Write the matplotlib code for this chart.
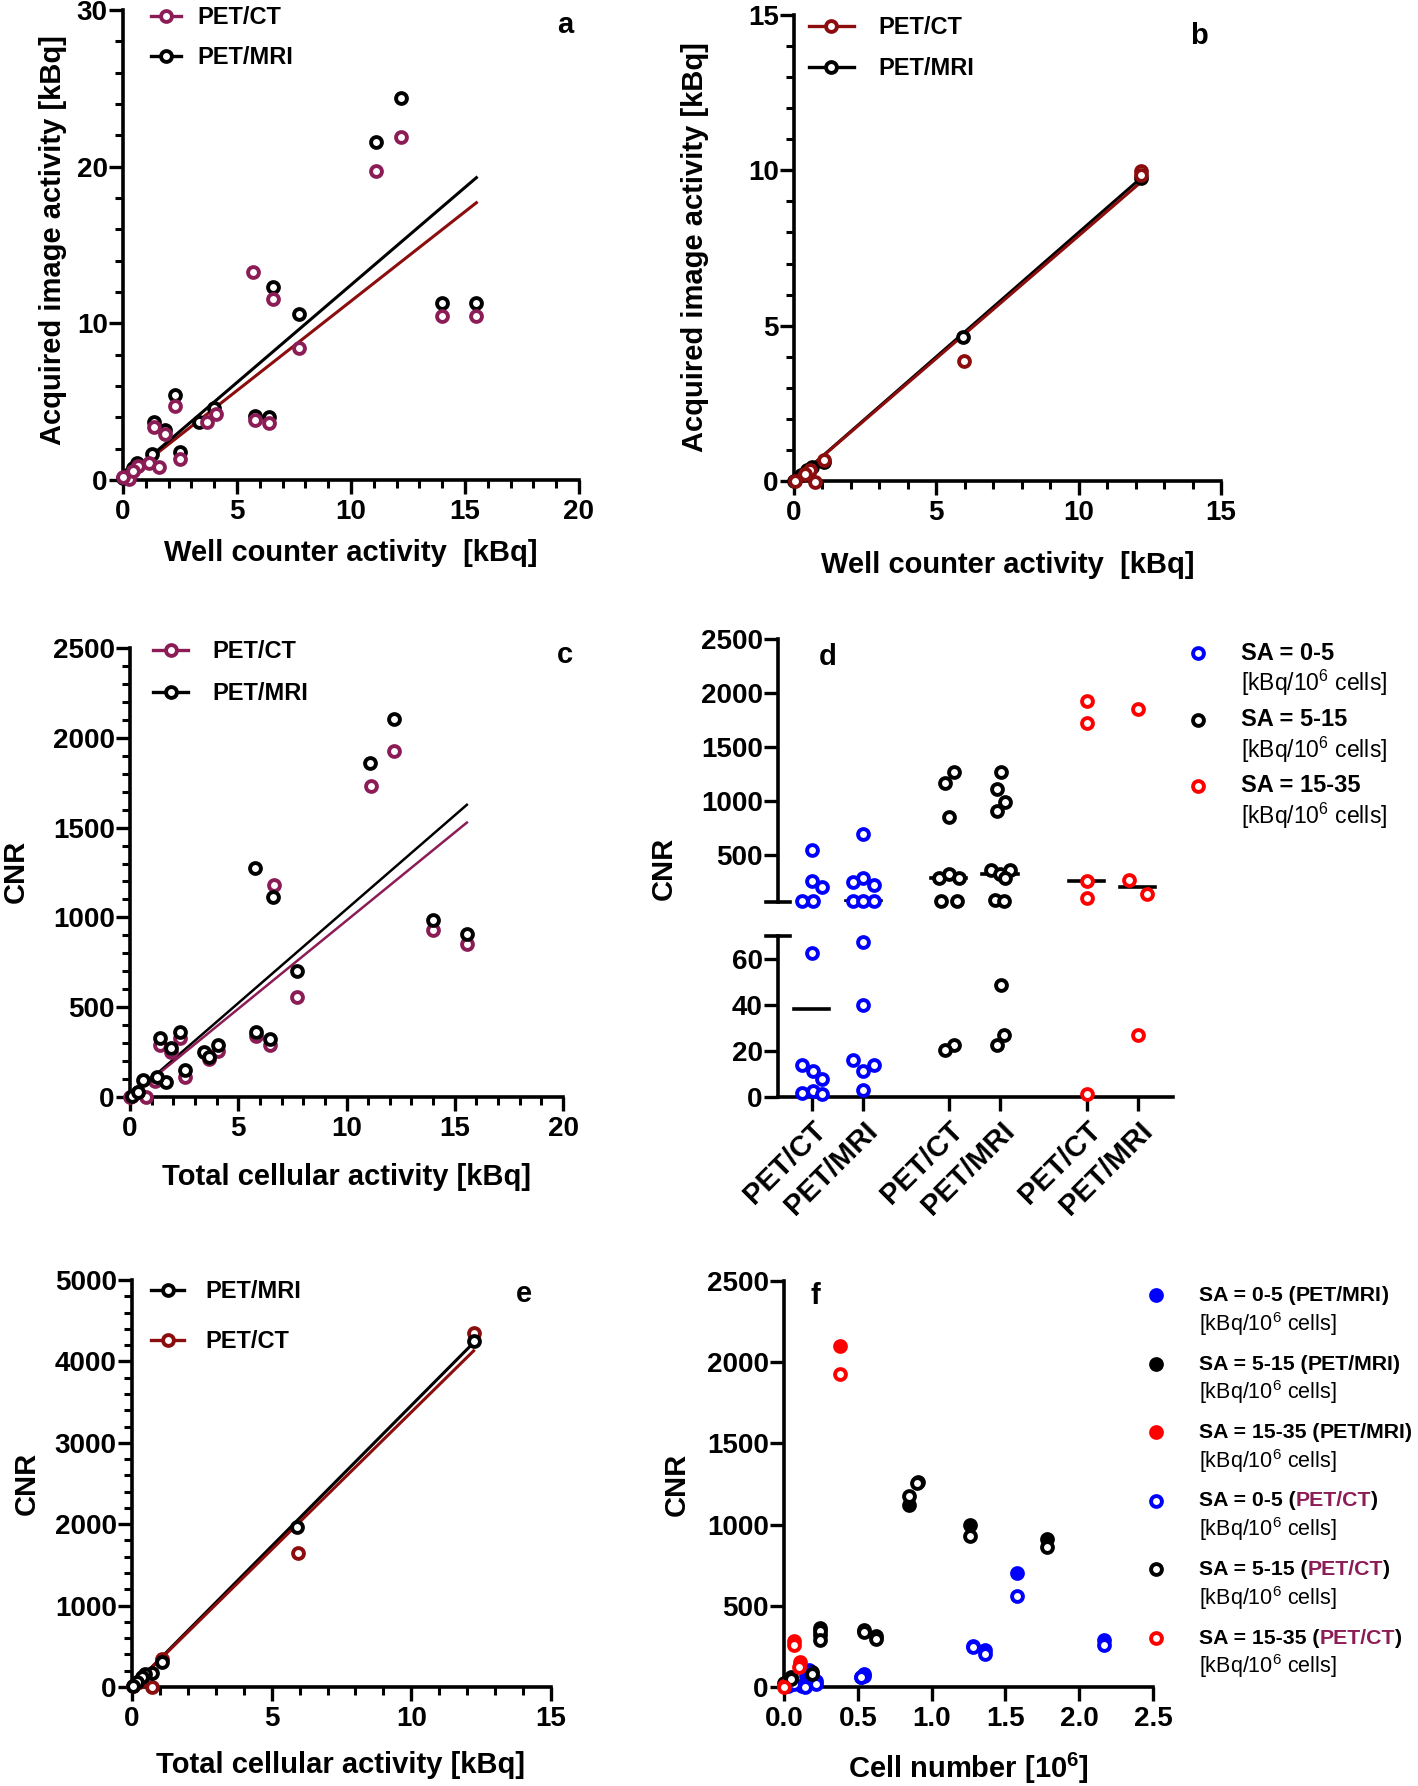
import matplotlib
matplotlib.use('Agg')
import matplotlib.pyplot as plt
import numpy as np
from matplotlib.ticker import MultipleLocator, FormatStrFormatter
from matplotlib.lines import Line2D

plt.rcParams['font.family'] = ['Liberation Sans', 'DejaVu Sans']
plt.rcParams['font.weight'] = 'bold'
plt.rcParams['mathtext.default'] = 'regular'

W, H = 1418, 1786
MAROON = '#8c1c55'
DARKRED = '#8b0d0d'
BLUE = '#0000ff'
RED = '#ff0000'

##########################################################################################
# data

# a: well counter activity vs acquired image activity [kBq]
a_mri_x = [12.2, 11.1, 6.6, 7.7, 14.0, 15.5, 2.26, 4.0, 5.8, 6.4, 1.34, 1.84, 3.35, 2.48, 1.26, 0.6, 0.17, 0.0, 0.45, 0.1]
a_mri_y = [24.4, 21.6, 12.3, 10.6, 11.3, 11.3, 5.4, 4.6, 4.1, 4.0, 3.7, 3.2, 3.7, 1.8, 1.65, 1.06, 0.35, 0.1, 0.75, 0.2]
a_ct_x = [12.2, 11.1, 5.7, 6.6, 7.7, 14.0, 15.5, 2.26, 4.07, 3.68, 5.8, 6.4, 1.34, 1.84, 2.48, 1.14, 1.59, 0.67, 0.25, 0.0, 0.45]
a_ct_y = [21.9, 19.7, 13.25, 11.55, 8.4, 10.5, 10.5, 4.75, 4.2, 3.7, 3.85, 3.65, 3.4, 2.95, 1.35, 1.06, 0.83, 0.87, 0.05, 0.2, 0.6]
a_fit_x = [0.0, 15.5]
a_fit_mri = [0.0, 19.3]
a_fit_ct = [0.0, 17.7]

# b
b_mri_x = [12.2, 5.93, 1.04, 0.64, 0.44, 0.24, 0.0]
b_mri_y = [9.74, 4.62, 0.62, 0.45, 0.36, 0.18, 0.0]
b_ct_x = [12.2, 12.2, 5.96, 1.07, 0.75, 0.57, 0.37, 0.04]
b_ct_y = [9.98, 9.85, 3.85, 0.69, -0.02, 0.36, 0.24, 0.0]
b_fit_x = [0.0, 12.2]
b_fit_mri = [0.0, 9.76]
b_fit_ct = [0.0, 9.63]

# c: total cellular activity vs CNR
c_mri_x = [12.2, 11.1, 5.76, 6.6, 7.72, 14.0, 15.56, 2.29, 1.37, 1.89, 4.05, 3.4, 3.67, 5.81, 6.48, 2.52, 1.64, 1.23, 0.62, 0.09, 0.35]
c_mri_y = [2103, 1861, 1274, 1111, 700, 988, 909, 363, 331, 272, 288, 248, 224, 363, 323, 149, 85, 109, 95, 4, 30]
c_ct_x = [12.2, 11.14, 6.63, 7.72, 14.0, 15.56, 5.81, 6.48, 2.29, 1.37, 1.89, 4.05, 3.67, 2.52, 1.15, 0.76, 0.35, 0.0]
c_ct_y = [1929, 1732, 1181, 556, 931, 853, 341, 292, 330, 292, 248, 258, 212, 109, 89, 0, 30, 0]
c_fit_x = [0.0, 15.56]
c_fit_mri = [0.0, 1627]
c_fit_ct = [0.0, 1528]

# d: CNR per specific activity group
d_cats = ['PET/CT', 'PET/MRI', 'PET/CT', 'PET/MRI', 'PET/CT', 'PET/MRI']
d_pos = [0.0, 1.0, 2.66, 3.65, 5.33, 6.32]
d_vals = [
    [555, 264, 205, 82, 75, 62.6, 13.7, 11.1, 7.7, 1.7, 2.6, 1.2],
    [696, 289, 253, 227, 75, 75, 75, 67.4, 39.8, 16, 13.7, 11.5, 2.9],
    [1271, 1173, 853, 289, 325, 289, 78, 78, 22.8, 20.6],
    [1271, 1115, 991, 907, 362, 362, 325, 289, 85, 78, 48.5, 26.9, 22.8],
    [1925, 1725, 264, 107, 1.2],
    [1853, 271, 144, 26.9],
]
d_jitter = [
    [0.0, 0.0, 0.2, -0.18, 0.02, 0.0, -0.18, 0.02, 0.2, -0.18, 0.02, 0.2],
    [0.0, 0.0, -0.2, 0.2, -0.2, 0.0, 0.2, 0.0, 0.0, -0.2, 0.2, 0.0, 0.0],
    [0.1, -0.08, 0.0, -0.2, 0.0, 0.2, -0.15, 0.15, 0.1, -0.08],
    [0.02, -0.05, 0.09, -0.05, -0.18, 0.19, 0.0, 0.09, -0.1, 0.07, 0.02, 0.07, -0.05],
    [0.0, 0.0, 0.0, 0.0, 0.0],
    [0.0, -0.17, 0.17, 0.0],
]
d_colors = [BLUE, BLUE, 'black', 'black', RED, RED]
d_legend = ['SA = 0-5', 'SA = 5-15', 'SA = 15-35']

# e
e_mri_x = [12.23, 5.92, 1.07, 0.72, 0.45, 0.36, 0.18, 0.04]
e_mri_y = [4256, 1966, 307, 172, 160, 118, 67, 13]
e_ct_x = [12.23, 5.94, 1.07, 0.72, 0.25, 0.04]
e_ct_y = [4349, 1643, 340, 0, 67, 13]
e_fit_x = [0.0, 12.23]
e_fit_mri = [0.0, 4230]
e_fit_ct = [0.0, 4130]

# f: cell number vs CNR
f_mri_05_x = [1.58, 1.28, 1.36, 2.17, 0.54, 0.52, 0.17, 0.15, 0.22, 0.03, 0.12]
f_mri_05_y = [701, 253, 227, 290, 80, 63, 105, 69, 34, 17, 6]
f_ct_05_x = [1.58, 1.28, 1.36, 2.17, 0.54, 0.52, 0.17, 0.19, 0.22, 0.03, 0.14, 0.07]
f_ct_05_y = [560, 248, 206, 259, 69, 59, 84, 48, 17, 6, 0, 21]
f_mri_515_x = [0.91, 0.85, 1.26, 1.78, 0.245, 0.245, 0.54, 0.62, 0.19, 0.05, 0.0]
f_mri_515_y = [1265, 1122, 995, 911, 364, 322, 354, 311, 90, 59, 27]
f_ct_515_x = [0.90, 0.85, 1.26, 1.78, 0.245, 0.245, 0.54, 0.62, 0.19, 0.05]
f_ct_515_y = [1258, 1178, 932, 859, 343, 290, 337, 295, 80, 48]
f_mri_1535_x = [0.38, 0.07, 0.11, 0.0]
f_mri_1535_y = [2100, 286, 154, 6]
f_ct_1535_x = [0.38, 0.07, 0.10, 0.0]
f_ct_1535_y = [1928, 259, 122, 0]

##########################################################################################

fig = plt.figure(figsize=(W / 100, H / 100), dpi=100)


def add_ax(l, t, r, b):
    return fig.add_axes([l / W, 1 - b / H, (r - l) / W, (b - t) / H])


def ftext(x, y, s, **kw):
    return fig.text(x / W, 1 - y / H, s, **kw)


def style(ax, xmaj=None, xmin=None, ymaj=None, ymin=None):
    for s in ['top', 'right']:
        ax.spines[s].set_visible(False)
    for s in ['left', 'bottom']:
        ax.spines[s].set_linewidth(2.6)
    ax.tick_params(which='major', direction='out', length=10, width=2.4, labelsize=20)
    ax.tick_params(which='minor', direction='out', length=6, width=2.2)
    ax.tick_params(axis='y', pad=1)
    ax.tick_params(axis='x', pad=4)
    if xmaj: ax.xaxis.set_major_locator(MultipleLocator(xmaj))
    if xmin: ax.xaxis.set_minor_locator(MultipleLocator(xmin))
    if ymaj: ax.yaxis.set_major_locator(MultipleLocator(ymaj))
    if ymin: ax.yaxis.set_minor_locator(MultipleLocator(ymin))


MS, MEW = 7.8, 2.8


def pts(ax, x, y, color, filled=False, z=3):
    ax.plot(x, y, 'o', ms=MS, mfc=color if filled else 'white', mec=color, mew=MEW,
            clip_on=False, zorder=z, ls='none')


def handle(color, lcolor=None):
    return Line2D([], [], color=lcolor or color, lw=2.4, marker='o', ms=MS,
                  mfc='white', mec=color, mew=MEW)


def legend(ax, hs, labels, x, y, hl, tp, sp):
    ax.legend(hs, labels, loc='upper left', bbox_to_anchor=(x / W, 1 - y / H),
              bbox_transform=fig.transFigure, frameon=False, borderpad=0, borderaxespad=0,
              handlelength=hl, handletextpad=tp, labelspacing=sp,
              prop={'size': 17, 'weight': 'bold'})


# ---------------- a ----------------
ax = add_ax(123, 10, 579, 480)
style(ax, 5, 1, 10, 2)
ax.set_xlim(0, 20)
ax.set_ylim(0, 30)
ax.plot(a_fit_x, a_fit_ct, color=DARKRED, lw=2.2, zorder=2)
ax.plot(a_fit_x, a_fit_mri, color='black', lw=2.2, zorder=2)
pts(ax, a_mri_x, a_mri_y, 'black')
pts(ax, a_ct_x, a_ct_y, MAROON, z=4)
legend(ax, [handle(MAROON), handle('black')], ['PET/CT', 'PET/MRI'], 151, 6, 1.25, 0.7, 0.72)
ftext(351, 553, 'Well counter activity  [kBq]', ha='center', va='center', fontsize=21)
ftext(53, 240, 'Acquired image activity [kBq]', ha='center', va='center', fontsize=21, rotation=90)
ftext(565, 25, 'a', ha='center', va='center', fontsize=21)

# ---------------- b ----------------
ax = add_ax(794, 15, 1221, 481)
style(ax, 5, 1, 5, 1)
ax.set_xlim(0, 15)
ax.set_ylim(0, 15)
ax.plot(b_fit_x, b_fit_mri, color='black', lw=2.2, zorder=2)
ax.plot(b_fit_x, b_fit_ct, color=DARKRED, lw=2.2, zorder=2)
pts(ax, b_mri_x, b_mri_y, 'black')
pts(ax, b_ct_x, b_ct_y, DARKRED, z=4)
legend(ax, [handle(DARKRED), handle('black')], ['PET/CT', 'PET/MRI'], 809, 16, 1.9, 1.05, 0.78)
ftext(1008, 565, 'Well counter activity  [kBq]', ha='center', va='center', fontsize=21)
ftext(695, 247, 'Acquired image activity [kBq]', ha='center', va='center', fontsize=21, rotation=90)
ftext(1199, 36, 'b', ha='center', va='center', fontsize=21)

# ---------------- c ----------------
ax = add_ax(130, 648, 563, 1097)
style(ax, 5, 1, 500, 100)
ax.set_xlim(0, 20)
ax.set_ylim(0, 2500)
ax.plot(c_fit_x, c_fit_mri, color='black', lw=1.8, zorder=2)
ax.plot(c_fit_x, c_fit_ct, color=MAROON, lw=1.8, zorder=2)
pts(ax, c_ct_x, c_ct_y, MAROON)
pts(ax, c_mri_x, c_mri_y, 'black', z=4)
legend(ax, [handle(MAROON), handle('black')], ['PET/CT', 'PET/MRI'], 153, 640, 1.5, 1.0, 0.8)
ftext(347, 1177, 'Total cellular activity [kBq]', ha='center', va='center', fontsize=21)
ftext(16, 871, 'CNR', ha='center', va='center', fontsize=21, rotation=90)
ftext(565, 655, 'c', ha='center', va='center', fontsize=21)

# ---------------- d (broken y axis) ----------------
d_up = add_ax(778, 639, 1173, 902)
d_lo = add_ax(778, 936, 1173, 1097)
style(d_up, ymaj=500)
style(d_lo, ymaj=20)
d_up.spines['bottom'].set_visible(False)
d_up.tick_params(axis='x', which='both', bottom=False, labelbottom=False)
for a_ in (d_up, d_lo):
    a_.set_xlim(-0.65, 7.0)
    a_.plot([-0.03, 0.03], [0, 0] if a_ is d_up else [1, 1], color='black', lw=2.6,
            transform=a_.transAxes, clip_on=False)
d_up.set_ylim(70, 2500)
d_up.set_yticks([500, 1000, 1500, 2000, 2500])
d_lo.set_ylim(0, 70)
d_lo.set_yticks([0, 20, 40, 60])
for p, vals, jit, col in zip(d_pos, d_vals, d_jitter, d_colors):
    vals = np.array(vals)
    xs = p + np.array(jit)
    up = vals >= 70
    pts(d_up, xs[up], vals[up], col)
    pts(d_lo, xs[~up], vals[~up], col)
    med = np.median(vals)
    target = d_up if med >= 70 else d_lo
    target.plot([p - 0.34, p + 0.34], [med, med], color='black', lw=2.6, zorder=2)
d_lo.set_xticks(d_pos)
d_lo.set_xticklabels(d_cats, rotation=45, ha='right', rotation_mode='anchor', fontsize=21)
d_lo.tick_params(axis='x', pad=4)
ftext(664, 868, 'CNR', ha='center', va='center', fontsize=21, rotation=90)
ftext(828, 657, 'd', ha='center', va='center', fontsize=21)
for i, (lab, col) in enumerate(zip(d_legend, [BLUE, 'black', RED])):
    y0 = [653, 720, 786][i]
    fig.lines.append(Line2D([1198 / W], [1 - y0 / H], transform=fig.transFigure, marker='o',
                            ms=MS, mfc='white', mec=col, mew=MEW, ls='none'))
    ftext(1241, y0, lab, ha='left', va='center', fontsize=17)
    ftext(1241, y0 + 30, '[kBq/10$^{6}$ cells]', ha='left', va='center', fontsize=16.5,
          weight='normal')

# ---------------- e ----------------
ax = add_ax(132, 1280, 551, 1687)
style(ax, 5, 1, 1000, 200)
ax.set_xlim(0, 15)
ax.set_ylim(0, 5000)
ax.plot(e_fit_x, e_fit_mri, color='black', lw=2.2, zorder=2)
ax.plot(e_fit_x, e_fit_ct, color=DARKRED, lw=2.2, zorder=2)
pts(ax, e_ct_x, e_ct_y, DARKRED)
pts(ax, e_mri_x, e_mri_y, 'black', z=4)
legend(ax, [handle('black'), handle(DARKRED)], ['PET/MRI', 'PET/CT'], 151, 1280, 1.4, 0.9, 1.15)
ftext(341, 1765, 'Total cellular activity [kBq]', ha='center', va='center', fontsize=21)
ftext(27, 1483, 'CNR', ha='center', va='center', fontsize=21, rotation=90)
ftext(524, 1294, 'e', ha='center', va='center', fontsize=21)

# ---------------- f ----------------
ax = add_ax(784, 1281, 1153, 1687)
style(ax, 0.5, None, 500, None)
ax.set_xlim(0, 2.5)
ax.set_ylim(0, 2500)
ax.xaxis.set_major_formatter(FormatStrFormatter('%.1f'))
pts(ax, f_mri_05_x, f_mri_05_y, BLUE, filled=True)
pts(ax, f_mri_515_x, f_mri_515_y, 'black', filled=True)
pts(ax, f_mri_1535_x, f_mri_1535_y, RED, filled=True)
pts(ax, f_ct_05_x, f_ct_05_y, BLUE, z=4)
pts(ax, f_ct_515_x, f_ct_515_y, 'black', z=4)
pts(ax, f_ct_1535_x, f_ct_1535_y, RED, z=4)
ftext(968, 1768, 'Cell number [10$^{6}$]', ha='center', va='center', fontsize=21)
ftext(677, 1484, 'CNR', ha='center', va='center', fontsize=21, rotation=90)
ftext(815, 1296, 'f', ha='center', va='center', fontsize=21)

f_leg = [('SA = 0-5 (', 'PET/MRI', BLUE, True), ('SA = 5-15 (', 'PET/MRI', 'black', True),
         ('SA = 15-35 (', 'PET/MRI', RED, True), ('SA = 0-5 (', 'PET/CT', BLUE, False),
         ('SA = 5-15 (', 'PET/CT', 'black', False), ('SA = 15-35 (', 'PET/CT', RED, False)]
renderer = fig.canvas.get_renderer()
for i, (pre, dev, col, filled) in enumerate(f_leg):
    y0 = 1295 + i * 68.5
    fig.lines.append(Line2D([1156 / W], [1 - y0 / H], transform=fig.transFigure, marker='o',
                            ms=MS, mfc=col if filled else 'white',
                            mec=col, mew=MEW, ls='none'))
    x = 1199
    for s, c in [(pre, 'black'), (dev, 'black' if filled else MAROON), (')', 'black')]:
        t = ftext(x, y0 + 6, s, ha='left', va='baseline', fontsize=15.3, color=c)
        x = t.get_window_extent(renderer).x1
    ftext(1199, y0 + 29, '[kBq/10$^{6}$ cells]', ha='left', va='center', fontsize=15.5,
          weight='normal')

plt.savefig('out.png', dpi=100)
